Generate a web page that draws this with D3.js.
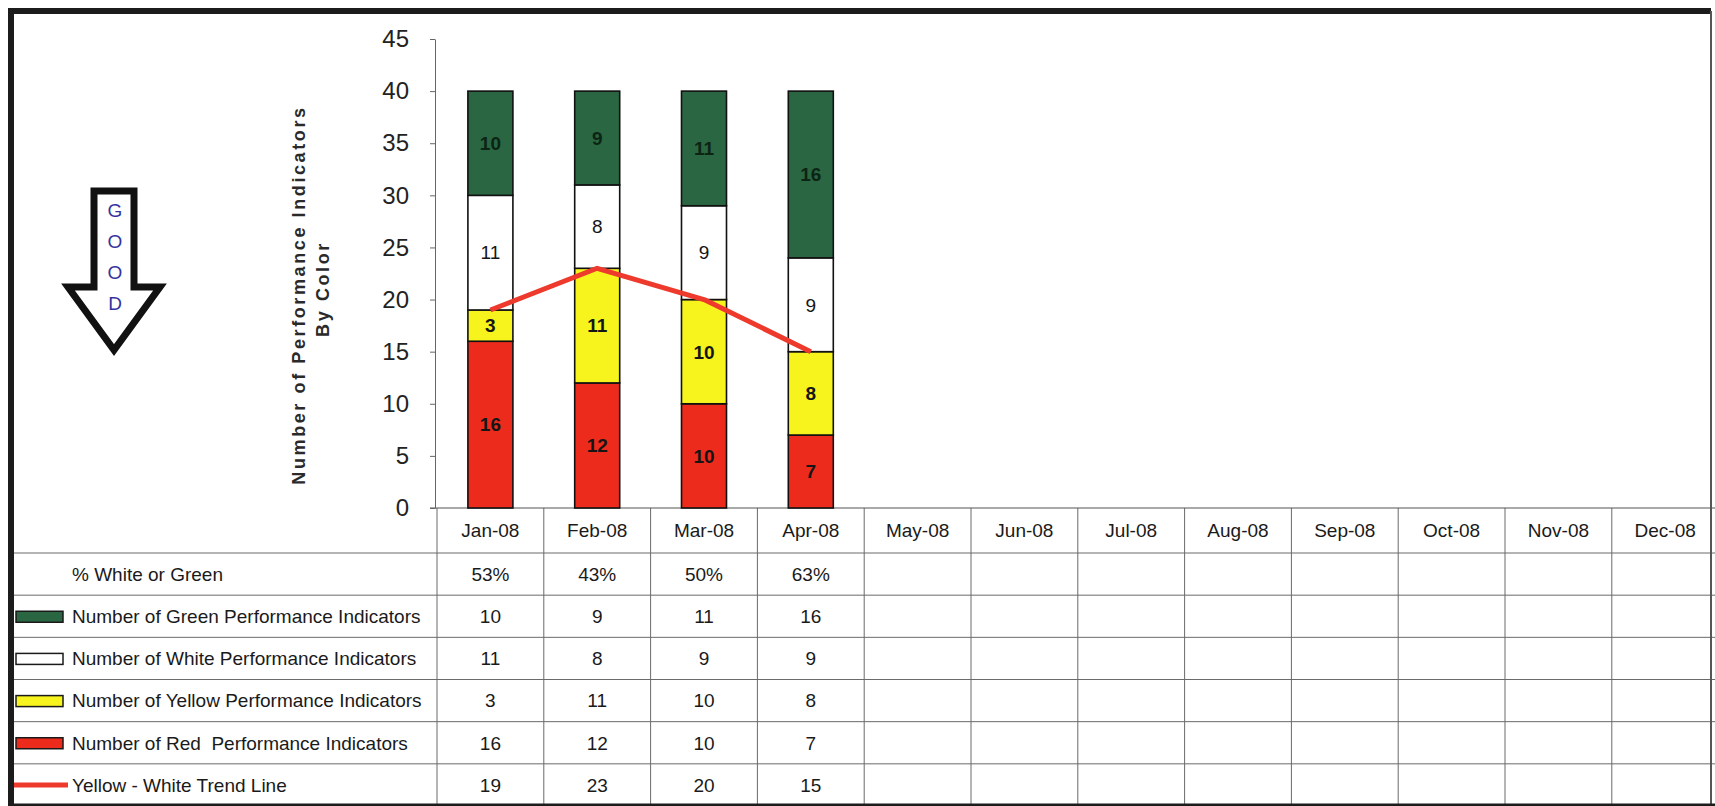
<!DOCTYPE html>
<html>
<head>
<meta charset="utf-8">
<script src="https://cdn.jsdelivr.net/npm/d3@7"></script>
<style>
  body { margin: 0; background: #fff; }
  text { font-family: "Liberation Sans", Arial, sans-serif; }
</style>
</head>
<body>
<div id="chart"></div>
<script>
// data
const months = ["Jan-08", "Feb-08", "Mar-08", "Apr-08", "May-08", "Jun-08",
                "Jul-08", "Aug-08", "Sep-08", "Oct-08", "Nov-08", "Dec-08"];
const redVals = [16, 12, 10, 7];
const yellowVals = [3, 11, 10, 8];
const whiteVals = [11, 8, 9, 9];
const greenVals = [10, 9, 11, 16];
const trendVals = [19, 23, 20, 15];
const pctWhiteGreen = ["53%", "43%", "50%", "63%"];
const yTicks = [0, 5, 10, 15, 20, 25, 30, 35, 40, 45];
const rowLabels = ["% White or Green",
                   "Number of Green Performance Indicators",
                   "Number of White Performance Indicators",
                   "Number of Yellow Performance Indicators",
                   "Number of Red  Performance Indicators",
                   "Yellow - White Trend Line"];
const goodLetters = ["G", "O", "O", "D"];

const width = 1715, height = 806;
const colors = {red: "#ec2b1d", yellow: "#f6f41c", white: "#ffffff", green: "#2a6642", trend: "#ee3a2c"};

const svg = d3.select("#chart")
    .append("svg")
    .attr("width", width)
    .attr("height", height);

svg.append("rect").attr("width", width).attr("height", height).attr("fill", "#fff");

// scales
const x = d3.scaleBand()
    .domain(months)
    .range([437, 437 + 12 * 106.8]);
const y = d3.scaleLinear()
    .domain([0, 45])
    .range([508, 39]);
const barW = 45;

// ---- table ----
const tableTop = 553, tableBottom = 806;
const rowY = d3.scaleBand()
    .domain(rowLabels)
    .range([tableTop, tableBottom]);

const grid = svg.append("g")
    .style("stroke", "#6a6a6a")
    .style("stroke-width", 1);

// horizontal lines
grid.selectAll("line.h")
    .data(rowLabels)
    .enter()
    .append("line")
    .attr("x1", 12).attr("x2", width)
    .attr("y1", (d) => rowY(d)).attr("y2", (d) => rowY(d));

// vertical lines
grid.selectAll("line.v")
    .data(months.concat(["end"]))
    .enter()
    .append("line")
    .attr("x1", (d, i) => x.range()[0] + i * x.bandwidth())
    .attr("x2", (d, i) => x.range()[0] + i * x.bandwidth())
    .attr("y1", y(0)).attr("y2", tableBottom);

// month labels
svg.append("g").selectAll("text")
    .data(months)
    .enter()
    .append("text")
    .attr("x", (d) => x(d) + x.bandwidth() / 2)
    .attr("y", (y(0) + tableTop) / 2)
    .attr("dy", "0.36em")
    .attr("text-anchor", "middle")
    .style("font-size", "19px")
    .style("fill", "#1a1a1a")
    .text((d) => d);

// row labels + legend keys
const rows = svg.append("g");
const rowCy = (i) => rowY(rowLabels[i]) + rowY.bandwidth() / 2;

rows.selectAll("text")
    .data(rowLabels)
    .enter()
    .append("text")
    .attr("x", 72)
    .attr("y", (d, i) => rowCy(i))
    .attr("dy", "0.36em")
    .style("font-size", "19px")
    .style("fill", "#1a1a1a")
    .style("white-space", "pre")
    .text((d) => d);

const keyColors = [null, colors.green, colors.white, colors.yellow, colors.red];
keyColors.forEach((c, i) => {
    if (!c) return;
    rows.append("rect")
        .attr("x", 16).attr("y", rowCy(i) - 5)
        .attr("width", 47).attr("height", 11)
        .style("fill", c)
        .style("stroke", "#1a1a1a")
        .style("stroke-width", 1.5);
});
rows.append("line")
    .attr("x1", 14).attr("x2", 68)
    .attr("y1", rowCy(5)).attr("y2", rowCy(5))
    .style("stroke", colors.trend)
    .style("stroke-width", 5);

// table values
const tableVals = [pctWhiteGreen, greenVals, whiteVals, yellowVals, redVals, trendVals];
tableVals.forEach((vals, r) => {
    svg.append("g").selectAll("text")
        .data(vals)
        .enter()
        .append("text")
        .attr("x", (d, i) => x(months[i]) + x.bandwidth() / 2)
        .attr("y", rowCy(r))
        .attr("dy", "0.36em")
        .attr("text-anchor", "middle")
        .style("font-size", "19px")
        .style("fill", "#1a1a1a")
        .text((d) => d);
});

// x axis line
svg.append("line")
    .attr("x1", 430).attr("x2", width)
    .attr("y1", y(0)).attr("y2", y(0))
    .style("stroke", "#555")
    .style("stroke-width", 1.2);

// ---- y axis ----
const yAxis = svg.append("g")
    .attr("transform", "translate(435,0)")
    .call(d3.axisLeft(y).tickValues(yTicks).tickSize(5).tickSizeOuter(0).tickPadding(21));
yAxis.select(".domain").style("stroke", "#666");
yAxis.selectAll(".tick line").style("stroke", "#666");
yAxis.selectAll(".tick text")
    .style("font-size", "24px")
    .style("font-family", "'Liberation Sans', Arial, sans-serif")
    .style("fill", "#222");

// y axis title
const title = svg.append("g")
    .style("font-size", "18px")
    .style("font-weight", "bold")
    .style("letter-spacing", "2.6px")
    .style("fill", "#2a2a2a");
title.append("text")
    .attr("transform", "translate(305,295) rotate(-90)")
    .attr("text-anchor", "middle")
    .text("Number of Performance Indicators");
title.append("text")
    .attr("transform", "translate(329,289) rotate(-90)")
    .attr("text-anchor", "middle")
    .text("By Color");

// ---- stacked bars ----
const barData = redVals.map((d, i) => ({
    month: months[i], red: redVals[i], yellow: yellowVals[i], white: whiteVals[i], green: greenVals[i]
}));
const keys = ["red", "yellow", "white", "green"];
const stacked = d3.stack().keys(keys)(barData);

const bars = svg.append("g");
stacked.forEach((layer) => {
    const g = bars.append("g");
    g.selectAll("rect")
        .data(layer)
        .enter()
        .append("rect")
        .attr("x", (d) => x(d.data.month) + (x.bandwidth() - barW) / 2)
        .attr("y", (d) => y(d[1]))
        .attr("width", barW)
        .attr("height", (d) => y(d[0]) - y(d[1]))
        .style("fill", colors[layer.key])
        .style("stroke", "#111")
        .style("stroke-width", 1.6);
    g.selectAll("text")
        .data(layer)
        .enter()
        .append("text")
        .attr("x", (d) => x(d.data.month) + x.bandwidth() / 2)
        .attr("y", (d) => y((d[0] + d[1]) / 2))
        .attr("dy", "0.36em")
        .attr("text-anchor", "middle")
        .style("font-size", "19px")
        .style("font-weight", layer.key === "white" ? "normal" : "bold")
        .style("fill", layer.key === "green" ? "#0c2414" : "#151515")
        .text((d) => d.data[layer.key]);
});

// trend line
const line = d3.line()
    .x((d, i) => x(months[i]) + x.bandwidth() / 2)
    .y((d) => y(d));
svg.append("path")
    .datum(trendVals)
    .attr("d", line)
    .style("fill", "none")
    .style("stroke", colors.trend)
    .style("stroke-width", 5)
    .style("stroke-linejoin", "round");

// ---- GOOD arrow ----
const arrow = svg.append("g");
arrow.append("path")
    .attr("d", "M94,191L134,191L134,287L160,287L114,350L68,287L94,287Z")
    .style("fill", "#fff")
    .style("stroke", "#111")
    .style("stroke-width", 7)
    .style("stroke-linejoin", "miter");
arrow.selectAll("text")
    .data(goodLetters)
    .enter()
    .append("text")
    .attr("x", 115)
    .attr("y", (d, i) => 210 + i * 31)
    .attr("dy", "0.36em")
    .attr("text-anchor", "middle")
    .style("font-size", "19px")
    .style("fill", "#34349e")
    .text((d) => d);

// ---- outer frame ----
const frame = svg.append("g").style("stroke", "#1c1c1c").style("fill", "none");
frame.append("path")
    .attr("d", "M11,806L11,11L1711,11")
    .style("stroke-width", 6);
frame.append("line")
    .attr("x1", 1711).attr("x2", 1711).attr("y1", 11).attr("y2", 806)
    .style("stroke-width", 2)
    .style("stroke", "#555");
frame.append("line")
    .attr("x1", 8).attr("x2", 1715).attr("y1", 805).attr("y2", 805)
    .style("stroke-width", 3);
</script>
</body>
</html>
